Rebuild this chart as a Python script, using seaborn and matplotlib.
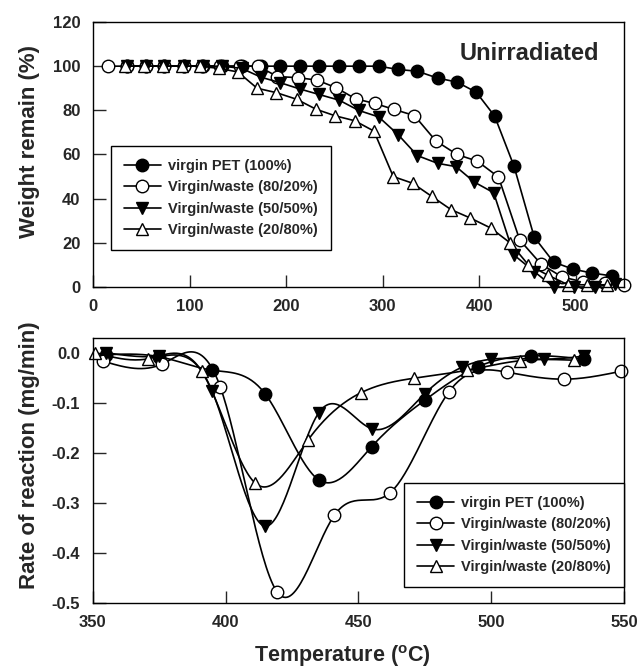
import numpy as np
import matplotlib
matplotlib.use('Agg')
import matplotlib.pyplot as plt
import seaborn as sns
from matplotlib.lines import Line2D

# ---- top panel: weight remain (%) vs temperature ----
temp_virgin = [35, 55, 74, 94, 114, 134, 154, 174, 194, 214, 234, 255, 275, 296,
               316, 336, 357, 377, 397, 416, 436, 457, 477, 497, 517, 538]
weight_virgin = [100, 100, 100, 100, 100, 100, 100, 100, 100, 100, 100, 100, 100, 100,
                 98.5, 97.7, 94.6, 92.8, 88.2, 77.4, 54.8, 22.6, 11.3, 8.1, 6.3, 5.0]

temp_80 = [16, 35, 55, 74, 94, 113, 132, 152, 171, 191, 212, 232, 252, 272, 292,
           312, 333, 355, 377, 398, 420, 442, 464, 486, 508, 530, 550]
weight_80 = [100, 100, 100, 100, 100, 100, 100, 100, 100, 95.3, 94.8, 93.7, 90.2, 85.2, 83.1,
             80.4, 77.6, 66.2, 60, 57, 49.8, 21.3, 10.4, 4.5, 2.3, 1.8, 0.9]

temp_50 = [35, 55, 74, 94, 114, 134, 154, 174, 194, 214, 234, 255, 275, 296,
           316, 336, 357, 376, 395, 415, 436, 457, 477, 498, 520, 541]
weight_50 = [100, 100, 100, 100, 100, 100, 99, 95, 92.5, 89.7, 87.2, 84.6, 80, 77,
             69, 59.5, 56, 54.5, 47.5, 42.7, 14.5, 7, 0, 0, 0, 1.5]

temp_20 = [33, 53, 72, 92, 111, 130, 150, 170, 190, 211, 231, 251, 271, 291,
           311, 331, 351, 371, 391, 412, 432, 451, 471, 492, 512, 532]
weight_20 = [100, 100, 100, 100, 100, 99, 97.4, 90, 88, 85, 80.5, 77.5, 75.3, 70.6,
             50, 47, 41, 35, 31.2, 26.7, 20, 10, 5.4, 1, 1, 1]

# ---- bottom panel: rate of reaction (mg/min) ----
rt_temp_virgin = [355, 375, 395, 415, 435, 455, 475, 495, 515, 535]
rate_virgin = [-0.004, -0.008, -0.035, -0.083, -0.254, -0.188, -0.095, -0.028, -0.006, -0.013]

rt_temp_80 = [354, 376, 398, 419.5, 441, 462, 484, 506, 527.5, 549]
rate_80 = [-0.017, -0.023, -0.068, -0.479, -0.325, -0.28, -0.079, -0.039, -0.053, -0.037]

rt_temp_50 = [355, 375, 395, 415, 435, 455, 475, 489, 500, 520, 535]
rate_50 = [0.0, -0.007, -0.077, -0.347, -0.121, -0.152, -0.082, -0.029, -0.013, -0.013, -0.007]

rt_temp_20 = [351, 371, 391, 411, 431, 451, 471, 491, 511, 531]
rate_20 = [0.0, -0.012, -0.037, -0.26, -0.175, -0.08, -0.051, -0.035, -0.016, -0.015]

labels = ['virgin PET (100%)', 'Virgin/waste (80/20%)',
          'Virgin/waste (50/50%)', 'Virgin/waste (20/80%)']
markers = ['o', 'o', 'v', '^']
faces = ['black', 'white', 'black', 'white']


def smooth(x, y, n=300):
    """natural cubic spline through the points, only for drawing the curve"""
    x = np.asarray(x, float)
    y = np.asarray(y, float)
    m = len(x)
    h = np.diff(x)
    A = np.zeros((m, m))
    b = np.zeros(m)
    A[0, 0] = A[-1, -1] = 1
    for i in range(1, m - 1):
        A[i, i - 1] = h[i - 1]
        A[i, i] = 2 * (h[i - 1] + h[i])
        A[i, i + 1] = h[i]
        b[i] = 6 * ((y[i + 1] - y[i]) / h[i] - (y[i] - y[i - 1]) / h[i - 1])
    M = np.linalg.solve(A, b)
    xs = np.linspace(x[0], x[-1], n)
    k = np.clip(np.searchsorted(x, xs) - 1, 0, m - 2)
    t1 = x[k + 1] - xs
    t0 = xs - x[k]
    hk = h[k]
    ys = (M[k] * t1 ** 3 + M[k + 1] * t0 ** 3) / (6 * hk) \
        + (y[k] / hk - M[k] * hk / 6) * t1 + (y[k + 1] / hk - M[k + 1] * hk / 6) * t0
    return xs, ys


sns.set_style('ticks')
plt.rcParams['font.family'] = ['Liberation Sans', 'DejaVu Sans']
plt.rcParams['font.weight'] = 'bold'
plt.rcParams['axes.unicode_minus'] = False
plt.rcParams['mathtext.fontset'] = 'custom'
plt.rcParams['mathtext.rm'] = 'Liberation Sans:bold'
plt.rcParams['mathtext.it'] = 'Liberation Sans:bold'

fig = plt.figure(figsize=(6.4, 6.7), dpi=100)
ax1 = fig.add_axes([93 / 640, 1 - 287 / 670, 531 / 640, 265 / 670])
ax2 = fig.add_axes([92.7 / 640, 1 - 602.7 / 670, 531.3 / 640, 265 / 670])

top_x = [temp_virgin, temp_80, temp_50, temp_20]
top_y = [weight_virgin, weight_80, weight_50, weight_20]
for x, y, mk, fc in zip(top_x, top_y, markers, faces):
    sns.lineplot(x=x, y=y, ax=ax1, color='black', lw=1.2, marker=mk, markersize=9,
                 markerfacecolor=fc, markeredgecolor='black', markeredgewidth=1,
                 clip_on=False, sort=False)

bot_x = [rt_temp_virgin, rt_temp_80, rt_temp_50, rt_temp_20]
bot_y = [rate_virgin, rate_80, rate_50, rate_20]
for x, y, mk, fc in zip(bot_x, bot_y, markers, faces):
    xs, ys = smooth(x, y)
    sns.lineplot(x=xs, y=ys, ax=ax2, color='black', lw=1.2, sort=False)
    sns.lineplot(x=x, y=y, ax=ax2, color='black', linestyle='none', marker=mk,
                 markersize=9, markerfacecolor=fc, markeredgecolor='black',
                 markeredgewidth=1, clip_on=False, sort=False)

handles = [Line2D([], [], color='black', lw=1.2, marker=mk, markersize=9,
                  markerfacecolor=fc, markeredgecolor='black')
           for mk, fc in zip(markers, faces)]

for ax in (ax1, ax2):
    ax.tick_params(direction='in', length=9, width=1, labelsize=12, pad=9,
                   top=False, right=False)
    for sp in ax.spines.values():
        sp.set_linewidth(1)
        sp.set_color('black')

ax1.set_xlim(0, 550)
ax1.set_ylim(0, 120)
ax1.set_xticks([0, 100, 200, 300, 400, 500])
ax1.set_yticks([0, 20, 40, 60, 80, 100, 120])
ax1.set_ylabel('Weight remain (%)', fontsize=16, fontweight='bold')
ax1.yaxis.set_label_coords(-0.1, 0.55)
ax1.text(0.821, 0.883, 'Unirradiated', transform=ax1.transAxes, ha='center',
         va='center', fontsize=17, fontweight='bold')
leg1 = ax1.legend(handles, labels, loc='upper left', bbox_to_anchor=(0.034, 0.532),
                  borderaxespad=0, fontsize=10.5, handlelength=2.5, handletextpad=0.5,
                  labelspacing=0.5, borderpad=0.9, fancybox=False, framealpha=1,
                  edgecolor='black')
leg1.get_frame().set_linewidth(1)

ax2.set_xlim(350, 550)
ax2.set_ylim(-0.5, 0.03)
ax2.set_xticks([350, 400, 450, 500, 550])
ax2.set_yticks([0.0, -0.1, -0.2, -0.3, -0.4, -0.5])
ax2.set_yticklabels(['0.0', '-0.1', '-0.2', '-0.3', '-0.4', '-0.5'])
ax2.set_ylabel('Rate of reaction (mg/min)', fontsize=16, fontweight='bold')
ax2.yaxis.set_label_coords(-0.1, 0.557)
ax2.set_xlabel(r'Temperature ($^{\mathrm{o}}$C)', fontsize=15.5, fontweight='bold')
ax2.xaxis.set_label_coords(0.471, -0.152)
leg2 = ax2.legend(handles, labels, loc='upper right', bbox_to_anchor=(1.0, 0.452),
                  borderaxespad=0, fontsize=10.5, handlelength=2.5, handletextpad=0.5,
                  labelspacing=0.5, borderpad=0.9, fancybox=False, framealpha=1,
                  edgecolor='black')
leg2.get_frame().set_linewidth(1)

fig.savefig('out.png', dpi=100)
